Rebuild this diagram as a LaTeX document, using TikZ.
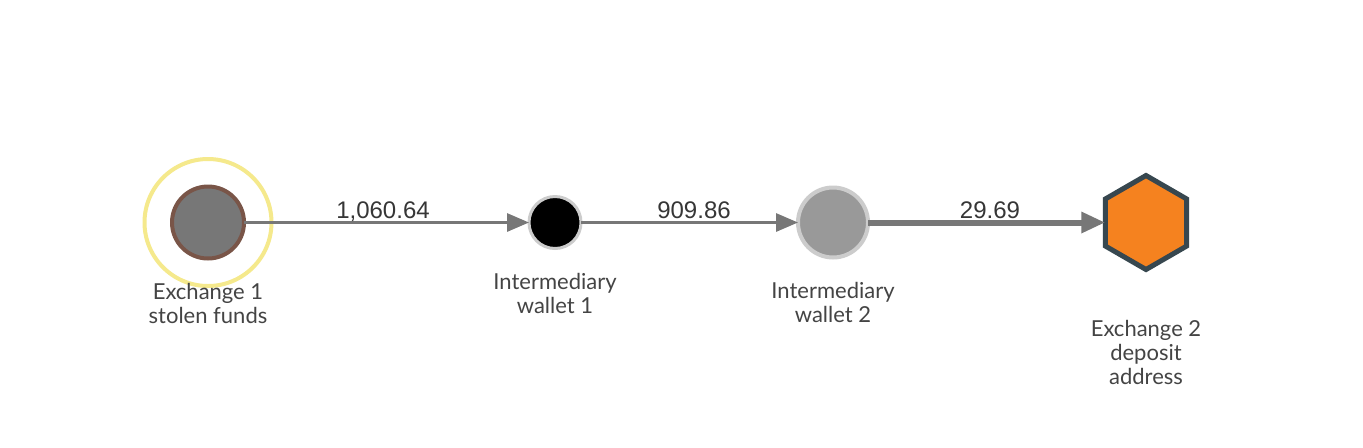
\documentclass[tikz,border=0pt]{standalone}
\usepackage{fontspec}
\setmainfont{Lato}
\newfontfamily\edgefont{Liberation Sans}
\usetikzlibrary{arrows.meta,shapes.geometric}

\definecolor{ringColor}{RGB}{245,233,140}
\definecolor{brownColor}{RGB}{121,85,72}
\definecolor{flowColor}{RGB}{119,119,119}
\definecolor{rimColor}{RGB}{204,204,204}
\definecolor{orangeColor}{RGB}{245,130,31}
\definecolor{slateColor}{RGB}{55,71,79}
\definecolor{textColor}{RGB}{68,68,68}

\tikzset{
  wallet/.style={circle,inner sep=0pt,outer sep=0pt},
  flow/.style={draw=flowColor,line width=1.5pt,-{Triangle[length=11pt,width=9pt]}},
  amount/.style={text=textColor!80!black,inner sep=0pt,anchor=base,font=\edgefont\fontsize{12}{14}\selectfont},
  caption/.style={text=textColor,inner sep=0pt,anchor=north,align=center,font=\fontsize{11}{12}\selectfont}
}

\begin{document}
\begin{tikzpicture}[x=0.5pt,y=0.5pt]
\path[use as bounding box,fill=white] (0,0) rectangle (1363,447);

% nodes
\node[wallet,draw=ringColor,line width=2pt,minimum size=63.5pt] (ring1) at (208,224.5) {};
\node[wallet,draw=brownColor,fill=flowColor,line width=2pt,minimum size=36pt] (ex1) at (208,224.5) {};
\node[wallet,draw=rimColor,fill=black,line width=1.5pt,minimum size=26pt] (wal1) at (555,224.5) {};
\node[wallet,draw=rimColor,fill=black!40,line width=2pt,minimum size=35pt] (wal2) at (833,224.5) {};
\node[regular polygon,regular polygon sides=6,shape border rotate=30,draw=slateColor,fill=orangeColor,
  line width=2.5pt,inner sep=0pt,outer sep=0pt,minimum size=47pt] (ex2) at (1146,224.5) {};

% flows
\draw[flow] (ex1) -- (wal1);
\draw[flow] (wal1) -- (wal2);
\draw[flow,line width=3pt,-{Triangle[length=12pt,width=10pt]}] (wal2) -- (ex2);

% amounts
\node[amount] (amt1) at (383,229) {1,060.64};
\node[amount] (amt2) at (694,229) {909.86};
\node[amount] (amt3) at (990,229) {29.69};

% captions
\node[caption] (cap1) at (208,164) {Exchange 1\\stolen funds};
\node[caption] (cap2) at (555,174) {Intermediary\\wallet 1};
\node[caption] (cap3) at (833,165) {Intermediary\\wallet 2};
\node[caption] (cap4) at (1146,127) {Exchange 2\\deposit\\address};
\end{tikzpicture}
\end{document}
